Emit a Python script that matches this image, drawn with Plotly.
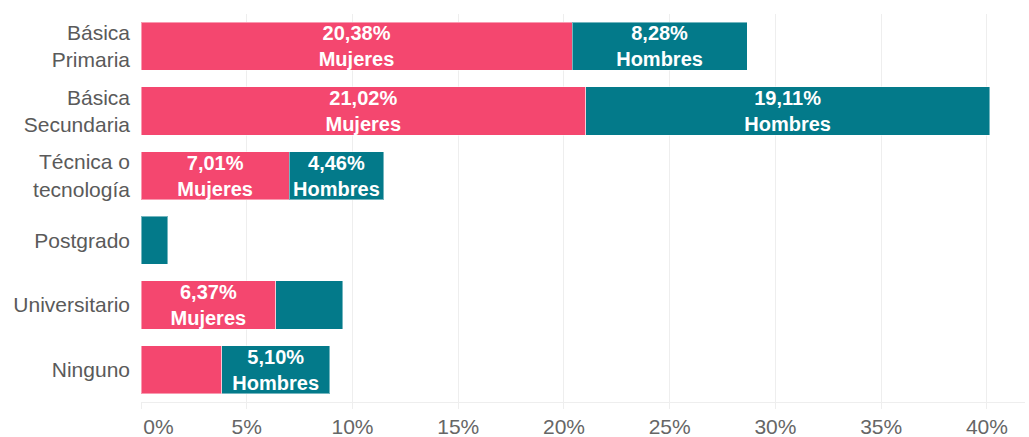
import plotly.graph_objects as go

categories = ["Básica<br>Primaria", "Básica<br>Secundaria", "Técnica o<br>tecnología",
              "Postgrado", "Universitario", "Ninguno"]
mujeres = [20.38, 21.02, 7.01, 0.0, 6.37, 3.82]
hombres = [8.28, 19.11, 4.46, 1.27, 3.18, 5.10]
x_ticks = [0, 5, 10, 15, 20, 25, 30, 35, 40]
x_ticklabels = ["\u00a0" * 6 + "0%", "5%", "10%", "15%", "20%", "25%", "30%", "35%", "40%"]

PINK = "#F4476F"
TEAL = "#037A8A"
MIN_LABEL = 4.0
FONT = "Arial, Liberation Sans, sans-serif"


def fmt(v, name):
    if v < MIN_LABEL:
        return ""
    return f"{v:.2f}".replace(".", ",") + "%<br>" + name


fig = go.Figure()
for vals, name, color in [(mujeres, "Mujeres", PINK), (hombres, "Hombres", TEAL)]:
    fig.add_trace(go.Bar(
        y=categories, x=vals, orientation="h", name=name,
        marker=dict(color=color, line=dict(color="rgba(255,255,255,0.45)", width=1)),
        text=[fmt(v, name) for v in vals],
        textposition="inside", insidetextanchor="middle", textangle=0,
        textfont=dict(family=FONT, size=20, color="white", weight="bold"),
        cliponaxis=False,
    ))

fig.update_layout(
    barmode="stack",
    bargap=0.255,
    width=1029, height=437,
    margin=dict(l=141, r=4, t=14, b=35, autoexpand=False),
    paper_bgcolor="white", plot_bgcolor="white",
    showlegend=False,
    font=dict(family=FONT, color="#5f5f5f"),
    uniformtext=dict(mode="show", minsize=20),
)
fig.update_xaxes(
    range=[0, 41.8], tickvals=x_ticks, ticktext=x_ticklabels,
    showgrid=True, gridcolor="#eeeeee", gridwidth=1, zeroline=False,
    showline=True, linecolor="#eeeeee", linewidth=1,
    ticks="outside", ticklen=6, tickcolor="#eeeeee",
    tickfont=dict(size=21, color="#666666"),
    automargin=False,
)
fig.update_yaxes(
    categoryorder="array", categoryarray=categories, autorange="reversed",
    showgrid=False, zeroline=False, showline=False, ticks="",
    ticklabelstandoff=10,
    tickfont=dict(size=21, color="#5a5a5a"),
    automargin=False,
)

fig.write_html("out.html", config={"displayModeBar": False},
               post_script="document.body.style.margin='0';document.body.style.overflow='hidden';")
